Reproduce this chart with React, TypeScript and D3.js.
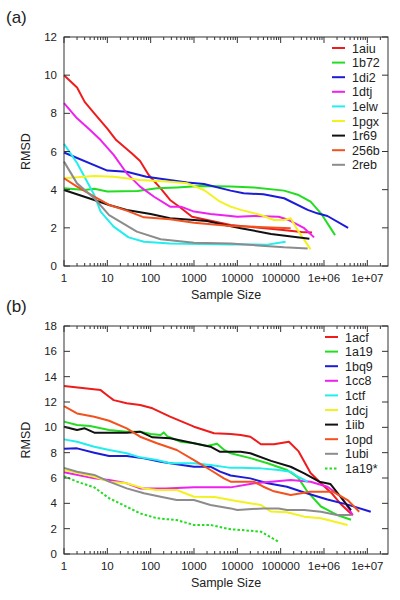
import React from "react";
import * as d3 from "d3";

type Pt = [number, number];

// ---------- Panel (a) ----------
const a_1aiu: Pt[] = [[1,10.0],[2,9.35],[3,8.6],[5,8.0],[10,7.2],[16,6.6],[37,5.9],[57,5.5],[90,4.77],[170,4.07],[280,3.46],[500,3.04],[900,2.58],[2000,2.41],[4000,2.27],[7000,2.15],[20000,2.05],[100000,1.9],[300000,1.78],[530000,1.75]];
const a_1b72: Pt[] = [[1,4.07],[3,3.98],[5,4.05],[10,3.9],[50,3.93],[140,4.07],[400,4.12],[1400,4.19],[7000,4.16],[24000,4.12],[120000,3.95],[260000,3.72],[490000,3.37],[850000,2.76],[1800000,1.62]];
const a_1di2: Pt[] = [[1,5.95],[10,5.0],[28,4.94],[80,4.68],[700,4.37],[1700,4.3],[7000,3.95],[14000,3.81],[40000,3.76],[120000,3.55],[420000,2.94],[700000,2.76],[1200000,2.62],[3600000,2.0]];
const a_1dtj: Pt[] = [[1,8.53],[2,7.74],[4,7.13],[7,6.6],[14,5.82],[28,4.86],[57,4.16],[120,3.63],[280,3.11],[500,3.11],[1000,2.85],[2400,2.73],[7000,2.62],[10000,2.58],[24000,2.62],[90000,2.58],[155000,2.41],[350000,1.98],[590000,1.5]];
const a_1elw: Pt[] = [[1,6.4],[2,5.4],[5,3.72],[7,2.85],[14,2.06],[31,1.5],[70,1.27],[280,1.18],[7000,1.13],[50000,1.12],[130000,1.27]];
const a_1pgx: Pt[] = [[1,4.6],[5,4.72],[14,4.68],[57,4.51],[280,4.42],[700,4.33],[1700,3.98],[4000,3.37],[7000,3.11],[12000,2.94],[35000,2.67],[70000,2.41],[120000,2.41],[170000,2.5],[260000,1.8],[490000,0.87]];
const a_1r69: Pt[] = [[1,3.98],[5,3.46],[11,3.2],[28,2.94],[100,2.73],[280,2.5],[1000,2.41],[2000,2.36],[4000,2.2],[12000,1.98],[60000,1.68],[460000,1.43]];
const a_256b: Pt[] = [[1,4.6],[2,4.16],[5,3.63],[11,3.2],[28,2.9],[70,2.55],[280,2.45],[1000,2.27],[7000,2.1],[30000,2.05],[170000,1.98]];
const a_2reb: Pt[] = [[1,5.47],[2,4.33],[5,3.55],[11,2.67],[48,1.8],[170,1.4],[1000,1.22],[7000,1.18],[120000,0.98],[420000,0.92]];

const namesA = ["1aiu","1b72","1di2","1dtj","1elw","1pgx","1r69","256b","2reb"];
const seriesA = [a_1aiu,a_1b72,a_1di2,a_1dtj,a_1elw,a_1pgx,a_1r69,a_256b,a_2reb];
const colorsA = ["#ee1c1c","#22dd22","#1c1cd8","#ee22ee","#22eeee","#f2f21e","#111111","#f2521e","#8c8c8c"];

// ---------- Panel (b) ----------
const b_1acf: Pt[] = [[1,13.26],[7,12.94],[11,12.42],[14,12.15],[28,11.9],[57,11.76],[110,11.5],[280,10.84],[1000,10.05],[2900,9.53],[7000,9.47],[12000,9.39],[20000,9.26],[35000,8.66],[70000,8.66],[155000,8.86],[260000,8.1],[490000,6.4],[850000,5.58],[1500000,4.8],[2500000,3.9],[4600000,3.05]];
const b_1a19: Pt[] = [[1,10.45],[2,10.18],[4,10.1],[11,9.79],[28,9.66],[57,9.66],[100,9.47],[170,9.39],[200,9.6],[240,9.3],[490,8.86],[1000,8.74],[2000,8.52],[3400,8.7],[5000,8.21],[7000,7.95],[20000,7.57],[50000,7.16],[140000,6.63],[250000,6.05],[420000,4.9],[850000,3.75],[2000000,3.08],[4200000,2.7]];
const b_1bq9: Pt[] = [[1,8.3],[2,8.34],[5,8.0],[11,7.73],[28,7.73],[70,7.55],[170,7.29],[400,7.08],[1000,6.89],[2400,6.89],[4000,6.5],[7000,6.2],[20000,5.97],[50000,5.58],[140000,5.31],[350000,4.85],[1200000,4.3],[3500000,3.9],[12000000,3.34]];
const b_1cc8: Pt[] = [[1,6.45],[5,5.97],[11,5.84],[28,5.58],[57,5.18],[220,5.18],[1000,5.26],[7000,5.26],[25000,5.58],[60000,5.71],[170000,5.84],[490000,5.71],[1200000,5.31],[2500000,4.52],[4600000,3.08]];
const b_1ctf: Pt[] = [[1,9.05],[2,8.86],[5,8.47],[11,8.21],[28,7.95],[57,7.63],[140,7.42],[280,7.16],[1000,7.16],[2400,7.02],[7000,6.8],[12000,6.81],[35000,6.76],[90000,6.63],[170000,6.5],[250000,6.1],[420000,5.71]];
const b_1dcj: Pt[] = [[1,6.65],[5,6.1],[11,5.71],[28,5.58],[70,5.18],[140,5.05],[400,5.05],[1000,4.52],[3000,4.5],[7000,4.26],[12000,4.13],[35000,3.87],[60000,3.35],[140000,3.3],[350000,2.95],[850000,2.82],[3500000,2.29]];
const b_1iib: Pt[] = [[1,10.05],[2,9.79],[3,9.92],[5,9.58],[28,9.58],[57,9.66],[110,9.21],[280,9.13],[1000,8.74],[2400,8.47],[4000,8.07],[12000,8.07],[20000,7.95],[60000,7.35],[170000,6.89],[350000,6.37],[780000,5.71],[1400000,5.53],[4200000,3.47]];
const b_1opd: Pt[] = [[1,11.68],[2,11.1],[5,10.84],[11,10.52],[28,9.92],[57,9.26],[140,8.74],[400,8.21],[1000,7.42],[2400,6.63],[4900,5.97],[7000,5.71],[24000,5.71],[40000,5.31],[70000,4.95],[170000,4.66],[490000,4.92],[1600000,4.92],[3500000,4.26],[6500000,3.34]];
const b_1ubi: Pt[] = [[1,6.8],[2,6.5],[5,6.24],[11,5.71],[28,5.18],[70,4.79],[170,4.52],[400,4.26],[1000,4.26],[2400,3.87],[7000,3.6],[10000,3.47],[40000,3.6],[90000,3.6],[140000,3.47],[350000,3.47],[850000,3.34],[2000000,3.08],[4200000,3.08]];
const b_1a19s: Pt[] = [[1,6.15],[2,5.71],[5,5.26],[11,4.4],[28,3.73],[57,3.21],[140,2.82],[400,2.68],[1000,2.29],[2400,2.29],[7000,1.95],[12000,1.9],[35000,1.76],[90000,0.97]];

const namesB = ["1acf","1a19","1bq9","1cc8","1ctf","1dcj","1iib","1opd","1ubi","1a19*"];
const seriesB = [b_1acf,b_1a19,b_1bq9,b_1cc8,b_1ctf,b_1dcj,b_1iib,b_1opd,b_1ubi,b_1a19s];
const colorsB = ["#ee1c1c","#22dd22","#1c1cd8","#ee22ee","#22eeee","#f2f21e","#111111","#f2521e","#8c8c8c","#22dd22"];
const dashedB = [false,false,false,false,false,false,false,false,false,true];

const xTickValues = [1,10,100,1000,10000,100000,1000000,10000000];
const xTickLabels = ["1","10","100","1000","10000","100000","1e+06","1e+07"];
const yTicksA = [0,2,4,6,8,10,12];
const yTicksB = [0,2,4,6,8,10,12,14,16,18];

const FONT = "'Liberation Sans', Arial, Helvetica, sans-serif";
const FRAME = "#333";
const TEXT = "#222";

interface PanelProps {
  tag: string;
  top: number;
  bottom: number;
  yMax: number;
  yTicks: number[];
  names: string[];
  series: Pt[][];
  colors: string[];
  dashed?: boolean[];
  legendLineX: number;
  legendTop: number;
}

function Panel(p: PanelProps) {
  const left = 64, right = 388;
  const x = d3.scaleLog().domain([1, 3e7]).range([left, right]);
  const y = d3.scaleLinear().domain([0, p.yMax]).range([p.bottom, p.top]);
  const line = d3.line<Pt>().x(d => x(d[0])).y(d => y(d[1]));
  const minor: number[] = [];
  for (let e = 0; e < 8; e++) for (let k = 2; k <= 9; k++) { const v = k * Math.pow(10, e); if (v < 3e7) minor.push(v); }
  const maj = 6, mn = 3;
  const legStep = 14.6;
  return (
    <g>
      <text x={6} y={p.top - 14} fontSize={17} fill={TEXT} fontFamily={FONT}>{p.tag}</text>
      {p.series.map((s, i) => (
        <path key={i} d={line(s) || ""} fill="none" stroke={p.colors[i]} strokeWidth={2}
          strokeDasharray={p.dashed && p.dashed[i] ? "2.5,2" : undefined} strokeLinejoin="round" />
      ))}
      <rect x={left} y={p.top} width={right - left} height={p.bottom - p.top} fill="none" stroke={FRAME} strokeWidth={1} />
      {p.yTicks.map(t => (
        <g key={"y" + t}>
          <line x1={left} x2={left + maj} y1={y(t)} y2={y(t)} stroke={FRAME} />
          <line x1={right} x2={right - maj} y1={y(t)} y2={y(t)} stroke={FRAME} />
          <text x={57} y={y(t) + 4} textAnchor="end" fontSize={11.5} fill={TEXT} fontFamily={FONT}>{t}</text>
        </g>
      ))}
      {xTickValues.map((t, i) => (
        <g key={"x" + t}>
          <line x1={x(t)} x2={x(t)} y1={p.bottom} y2={p.bottom - maj} stroke={FRAME} />
          <line x1={x(t)} x2={x(t)} y1={p.top} y2={p.top + maj} stroke={FRAME} />
          <text x={x(t)} y={p.bottom + 16} textAnchor="middle" fontSize={11.5} fill={TEXT} fontFamily={FONT}>{xTickLabels[i]}</text>
        </g>
      ))}
      {minor.map(t => (
        <g key={"m" + t}>
          <line x1={x(t)} x2={x(t)} y1={p.bottom} y2={p.bottom - mn} stroke={FRAME} />
          <line x1={x(t)} x2={x(t)} y1={p.top} y2={p.top + mn} stroke={FRAME} />
        </g>
      ))}
      <text x={(left + right) / 2} y={p.bottom + 33} textAnchor="middle" fontSize={12.5} fill={TEXT} fontFamily={FONT}>Sample Size</text>
      <text transform={`translate(${30},${(p.top + p.bottom) / 2}) rotate(-90)`} textAnchor="middle" fontSize={12.5} fill={TEXT} fontFamily={FONT}>RMSD</text>
      {p.names.map((n, i) => {
        const ly = p.legendTop + i * legStep;
        return (
          <g key={"l" + n}>
            <line x1={p.legendLineX} x2={p.legendLineX + 13} y1={ly} y2={ly} stroke={p.colors[i]} strokeWidth={2}
              strokeDasharray={p.dashed && p.dashed[i] ? "2.5,2" : undefined} />
            <text x={p.legendLineX + 20} y={ly + 4.5} fontSize={12.5} fill={TEXT} fontFamily={FONT}>{n}</text>
          </g>
        );
      })}
    </g>
  );
}

export default function App() {
  return (
    <svg width={400} height={600} style={{ position: "absolute", left: 0, top: 0, background: "#fff" }}>
      <rect width={400} height={600} fill="#fff" />
      <Panel tag="(a)" top={37} bottom={266} yMax={12} yTicks={yTicksA} names={namesA} series={seriesA}
        colors={colorsA} legendLineX={332} legendTop={48} />
      <Panel tag="(b)" top={326} bottom={554} yMax={18} yTicks={yTicksB} names={namesB} series={seriesB}
        colors={colorsB} dashed={dashedB} legendLineX={325} legendTop={337} />
    </svg>
  );
}
